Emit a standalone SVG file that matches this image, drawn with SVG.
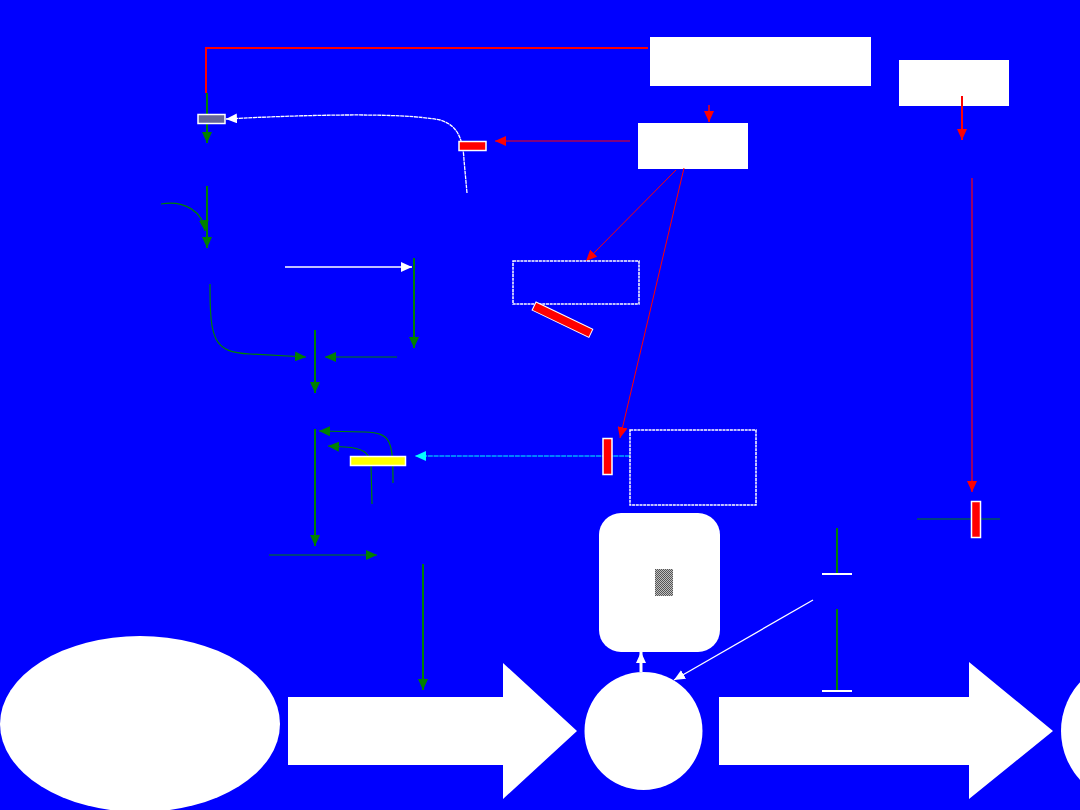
<svg xmlns="http://www.w3.org/2000/svg" width="1080" height="810" viewBox="0 0 1080 810">
<style>
.g{stroke:#008000;fill:none}
.r{stroke:#ff0000;fill:none}
.w{stroke:#ffffff;fill:none}
.box{fill:#ffffff}
.dot{fill:none;stroke:#ffffff;stroke-width:1.5;stroke-dasharray:3 0.7}
</style>
<defs>
<marker id="ag" markerUnits="userSpaceOnUse" markerWidth="12" markerHeight="10" refX="11" refY="5" orient="auto"><path d="M0,0 L11,5 L0,10 z" fill="#008000"/></marker>
<marker id="ar" markerUnits="userSpaceOnUse" markerWidth="12" markerHeight="10" refX="11" refY="5" orient="auto"><path d="M0,0 L11,5 L0,10 z" fill="#ff0000"/></marker>
<marker id="aw" markerUnits="userSpaceOnUse" markerWidth="12" markerHeight="10" refX="11" refY="5" orient="auto"><path d="M0,0 L11,5 L0,10 z" fill="#ffffff"/></marker>
<marker id="ac" markerUnits="userSpaceOnUse" markerWidth="12" markerHeight="10" refX="11" refY="5" orient="auto"><path d="M0,0 L11,5 L0,10 z" fill="#00ffff"/></marker>
<pattern id="chk" width="2" height="2" patternUnits="userSpaceOnUse"><rect width="2" height="2" fill="#c0c0c0"/><rect width="1" height="1" fill="#555555"/><rect x="1" y="1" width="1" height="1" fill="#555555"/></pattern>
</defs>
<rect x="0" y="0" width="1080" height="810" fill="#0000ff"/>

<g id="boxA"><rect class="box" x="650" y="37" width="221" height="49"/></g>
<g id="boxB"><rect class="box" x="638" y="123" width="110" height="46"/></g>
<g id="boxC"><rect class="box" x="899" y="60" width="110" height="46"/></g>

<g id="connectors">
<path class="r" stroke-width="2" d="M648,48 L206,48 L206,93"/>
<path class="g" stroke-width="2" d="M207,93 L207,143" marker-end="url(#ag)"/>
<path class="w" stroke-width="1.3" stroke-dasharray="4 0.6" d="M467,193 L464,160 C463,140 458,125 440,120 C400,112 300,115 226,119" marker-end="url(#aw)"/>
<path class="r" stroke-width="1" d="M630,141 L495,141" marker-end="url(#ar)"/>
<path class="r" stroke-width="1.5" d="M709,105 L709,122" marker-end="url(#ar)"/>
<path class="r" stroke-width="2" d="M962,96 L962,140" marker-end="url(#ar)"/>
<path class="r" stroke-width="1.2" d="M972,178 L972,492" marker-end="url(#ar)"/>
<path class="g" stroke-width="1" d="M917,519 L1000,519"/>
<path class="r" stroke-width="1" d="M676,170 L586,261" marker-end="url(#ar)"/>
<path class="r" stroke-width="1" d="M684,168 L620,438" marker-end="url(#ar)"/>
<path stroke="#00ffff" stroke-width="1.2" stroke-dasharray="5 0.8" fill="none" d="M630,456 L415,456" marker-end="url(#ac)"/>
<path class="g" stroke-width="2" d="M207,186 L207,248" marker-end="url(#ag)"/>
<path class="g" stroke-width="1.2" d="M161,204 C185,200 203,212 205,231" marker-end="url(#ag)"/>
<path class="g" stroke-width="1.2" d="M210,284 C210,340 213,352 250,354 L306,357" marker-end="url(#ag)"/>
<path class="g" stroke-width="2" d="M315,330 L315,393" marker-end="url(#ag)"/>
<path class="g" stroke-width="1" d="M397,357 L325,357" marker-end="url(#ag)"/>
<path class="g" stroke-width="2" d="M414,258 L414,348" marker-end="url(#ag)"/>
<path class="w" stroke-width="1.5" d="M285,267 L412,267" marker-end="url(#aw)"/>
<path class="g" stroke-width="2" d="M315,429 L315,546" marker-end="url(#ag)"/>
<path class="g" stroke-width="1.2" d="M393,483 C393,440 391,433 365,432 L319,431" marker-end="url(#ag)"/>
<path class="g" stroke-width="1.2" d="M372,504 L371,465 C370,452 362,448 345,447 L328,446" marker-end="url(#ag)"/>
<path class="g" stroke-width="1" d="M269,555 L377,555" marker-end="url(#ag)"/>
<path class="g" stroke-width="2" d="M423,564 L423,690" marker-end="url(#ag)"/>
<path class="w" stroke-width="3" d="M641,672 L641,652" marker-end="url(#aw)"/>
<path class="w" stroke-width="1.3" d="M813,600 L674,680" marker-end="url(#aw)"/>
<path class="g" stroke-width="2" d="M837,528 L837,574"/>
<path class="w" stroke-width="2" d="M822,574 L852,574"/>
<path class="g" stroke-width="2" d="M837,609 L837,691"/>
<path class="w" stroke-width="2" d="M822,691 L852,691"/>
</g>

<g id="grayBar"><rect x="198" y="114.5" width="27" height="9" fill="#666699" stroke="#ffffff" stroke-width="1.5"/></g>
<g id="redBar1"><rect x="459" y="141.5" width="27" height="9" fill="#ff0000" stroke="#ffffff" stroke-width="1.5"/></g>
<g id="dotBox1"><rect class="dot" x="513" y="261" width="126" height="43"/></g>
<g id="redBarTilt"><rect x="-31" y="-4.5" width="63" height="9" fill="#ff0000" stroke="#ffffff" stroke-width="1" transform="translate(562,319.5) rotate(25.7)"/></g>
<g id="dotBox2"><rect class="dot" x="630" y="430" width="126" height="75"/></g>
<g id="redBar2"><rect x="603" y="438.5" width="9" height="36" fill="#ff0000" stroke="#ffffff" stroke-width="1.5"/></g>
<g id="yellowBar"><rect x="350.5" y="456.5" width="55" height="9" fill="#ffff00" stroke="#ffffff" stroke-width="1.5"/></g>
<g id="redBar3"><rect x="971.5" y="501.5" width="9" height="36" fill="#ff0000" stroke="#ffffff" stroke-width="1.5"/></g>
<g id="roundBox"><rect class="box" x="599" y="513" width="121" height="139" rx="22" ry="22"/><rect x="655" y="569" width="18" height="27" fill="url(#chk)"/></g>
<g id="ellipseLeft"><ellipse class="box" cx="140" cy="724" rx="140" ry="88"/></g>
<g id="bigArrow1"><polygon class="box" points="288,697 503,697 503,663 577,731 503,799 503,765 288,765"/></g>
<g id="circle"><ellipse class="box" cx="643.5" cy="731" rx="59" ry="59"/></g>
<g id="bigArrow2"><polygon class="box" points="719,697 969,697 969,662 1053,731 969,799 969,765 719,765"/></g>
<g id="ellipseRight"><ellipse class="box" cx="1140" cy="731" rx="79" ry="75"/></g>
</svg>
